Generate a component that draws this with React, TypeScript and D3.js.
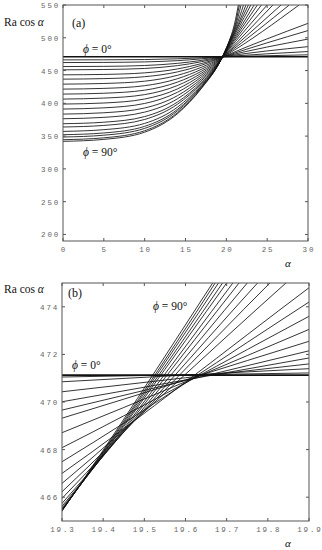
import React from 'react';
import * as d3 from 'd3';

// Ra cos(alpha) for phi = 0 (longitudinal rolls) is constant
const PHI0_VALUE = 471.13;

// Left branch sample abscissae (alpha, degrees)
const LEFT_ALPHAS = [0, 5, 10, 14, 17, 19.3];

// Left-branch values per curve (phi increasing from ~0 to 90 deg)
const LEFT_VALUES: number[][] = [
  [466.3, 466.4, 466.8, 467.9, 469.4, 471.05],
  [462.2, 462.4, 463.2, 465.1, 467.9, 470.85],
  [456.1, 456.4, 457.7, 461.0, 465.6, 470.43],
  [451.1, 451.6, 453.2, 457.5, 463.6, 470.01],
  [443.5, 444.1, 446.5, 452.4, 460.8, 469.66],
  [436.9, 437.7, 440.6, 447.9, 458.3, 469.32],
  [429.3, 430.3, 433.8, 442.7, 455.3, 468.71],
  [421.7, 422.8, 426.9, 437.5, 452.3, 468.08],
  [414.1, 415.4, 420.1, 432.3, 449.3, 467.49],
  [406.5, 408.0, 413.3, 427.1, 446.4, 467.0],
  [398.9, 400.5, 406.6, 421.9, 443.6, 466.58],
  [391.3, 393.1, 399.8, 416.8, 440.8, 466.23],
  [383.6, 385.6, 392.9, 411.6, 438.0, 465.95],
  [376.5, 378.6, 386.6, 406.8, 435.4, 465.74],
  [368.9, 371.2, 379.8, 401.8, 432.7, 465.62],
  [363.9, 366.3, 375.4, 398.5, 431.0, 465.54],
  [357.2, 359.8, 369.4, 394.0, 428.7, 465.49],
  [352.1, 354.8, 364.9, 390.6, 426.9, 465.46],
  [348.6, 351.4, 361.8, 388.3, 425.7, 465.44],
  [344.5, 347.4, 358.2, 385.6, 424.3, 465.43],
  [342.0, 345.0, 356.0, 384.0, 423.5, 465.42],
];

// Right-branch points [alpha, Ra cos alpha] per curve
const RIGHT_POINTS: [number, number][][] = [
  [[19.9, 471.22], [30, 474]],
  [[19.9, 471.4], [30, 479]],
  [[19.9, 471.6], [30, 486.5]],
  [[19.9, 471.85], [30, 498]],
  [[19.9, 472.15], [30, 511]],
  [[19.9, 472.55], [30, 522]],
  [[19.9, 473.05], [28.9, 550]],
  [[19.9, 473.6], [27.7, 550]],
  [[19.9, 474.2], [26.7, 550]],
  [[19.9, 474.8], [25.7, 550]],
  [[19.844, 475], [25.0, 550]],
  [[19.805, 475], [24.3, 550]],
  [[19.775, 475], [23.8, 550]],
  [[19.75, 475], [23.4, 550]],
  [[19.73, 475], [23.0, 550]],
  [[19.715, 475], [22.7, 550]],
  [[19.7, 475], [20.5, 495], [21.5, 522], [22.4, 550]],
  [[19.69, 475], [20.5, 496.5], [21.2, 517], [22.1, 550]],
  [[19.68, 475], [20.5, 498], [21, 513], [21.8, 550]],
  [[19.672, 475], [20.5, 499.5], [21, 516], [21.6, 550]],
  [[19.666, 475], [20, 484], [20.5, 500], [21, 521], [21.47, 550]],
];

const A_XTICKS = [0, 5, 10, 15, 20, 25, 30];
const A_YTICKS = [200, 250, 300, 350, 400, 450, 500, 550];
const B_XTICKS = [19.3, 19.4, 19.5, 19.6, 19.7, 19.8, 19.9];
const B_YTICKS = [466, 468, 470, 472, 474];

const curves: [number, number][][] = LEFT_VALUES.map((vals, i) =>
  (LEFT_ALPHAS.map((a, j) => [a, vals[j]] as [number, number])).concat(RIGHT_POINTS[i])
);
const phi0Curve: [number, number][] = [[0, PHI0_VALUE], [30, PHI0_VALUE]];

const TICK_FONT = 'Liberation Mono';
const SERIF = 'Liberation Serif';

interface PanelProps {
  id: string;
  left: number; right: number; top: number; bottom: number;
  xDomain: [number, number]; yDomain: [number, number];
  xTicks: number[]; yTicks: number[];
  xFmt: (v: number) => string;
  tag: string; tagX: number; tagY: number;
  ylabY: number; alphaX: number; alphaY: number;
  phi0X: number; phi0Y: number; phi90X: number; phi90Y: number;
}

function Panel(p: PanelProps) {
  const x = d3.scaleLinear().domain(p.xDomain).range([p.left, p.right]);
  const y = d3.scaleLinear().domain(p.yDomain).range([p.bottom, p.top]);
  const line = d3.line<[number, number]>()
    .x(d => x(d[0]))
    .y(d => y(d[1]))
    .curve(d3.curveMonotoneX);
  const tl = 3;
  const axisColor = '#555';
  const tickText = { fontFamily: TICK_FONT, fontSize: '7.5px', fill: '#666', letterSpacing: '1.8px' };
  const serif = { fontFamily: SERIF, fill: '#111' };
  return (
    <g>
      <defs>
        <clipPath id={p.id}>
          <rect x={p.left} y={p.top} width={p.right - p.left} height={p.bottom - p.top} />
        </clipPath>
      </defs>
      <g clipPath={`url(#${p.id})`} fill="none" stroke="#111">
        {curves.map((c, i) => (
          <path key={i} d={line(c) || ''} strokeWidth={0.85} />
        ))}
        <path d={line(phi0Curve) || ''} strokeWidth={1.6} />
      </g>
      <rect x={p.left} y={p.top} width={p.right - p.left} height={p.bottom - p.top}
        fill="none" stroke={axisColor} strokeWidth={1} />
      {p.xTicks.map((t, i) => (
        <g key={'x' + i}>
          <line x1={x(t)} x2={x(t)} y1={p.bottom} y2={p.bottom - tl} stroke={axisColor} />
          <line x1={x(t)} x2={x(t)} y1={p.top} y2={p.top + tl} stroke={axisColor} />
          <text x={x(t) + 0.9} y={p.bottom + 11} textAnchor="middle" style={tickText}>{p.xFmt(t)}</text>
        </g>
      ))}
      {p.yTicks.map((t, i) => (
        <g key={'y' + i}>
          <line x1={p.left} x2={p.left + tl} y1={y(t)} y2={y(t)} stroke={axisColor} />
          <line x1={p.right} x2={p.right - tl} y1={y(t)} y2={y(t)} stroke={axisColor} />
          <text x={p.left - 3} y={y(t) + 3} textAnchor="end" style={tickText}>{String(t)}</text>
        </g>
      ))}
      <text x={4} y={p.ylabY} style={{ ...serif, fontSize: '11.5px' }}>
        Ra cos <tspan style={{ fontStyle: 'italic' }}>α</tspan>
      </text>
      <text x={p.tagX} y={p.tagY} style={{ ...serif, fontSize: '12px' }}>{p.tag}</text>
      <text x={p.alphaX} y={p.alphaY} style={{ ...serif, fontSize: '11px', fontStyle: 'italic' }}>α</text>
      <text x={p.phi0X} y={p.phi0Y} style={{ ...serif, fontSize: '11.5px' }}>
        <tspan style={{ fontStyle: 'italic' }}>ϕ</tspan> = 0°
      </text>
      <text x={p.phi90X} y={p.phi90Y} style={{ ...serif, fontSize: '11.5px' }}>
        <tspan style={{ fontStyle: 'italic' }}>ϕ</tspan> = 90°
      </text>
    </g>
  );
}

export default function App() {
  return (
    <svg width={322} height={550} style={{ position: 'absolute', left: 0, top: 0, background: '#fff' }}>
      <Panel id="clipA" left={63} right={308} top={5} bottom={241}
        xDomain={[0, 30]} yDomain={[190, 550]}
        xTicks={A_XTICKS} yTicks={A_YTICKS} xFmt={v => String(v)}
        tag="(a)" tagX={72} tagY={27} ylabY={26} alphaX={285} alphaY={267}
        phi0X={83} phi0Y={53} phi90X={83} phi90Y={156} />
      <Panel id="clipB" left={62} right={309} top={283} bottom={521}
        xDomain={[19.3, 19.9]} yDomain={[465, 475]}
        xTicks={B_XTICKS} yTicks={B_YTICKS} xFmt={v => d3.format('.1f')(v)}
        tag="(b)" tagX={68} tagY={297} ylabY={293} alphaX={285} alphaY={547}
        phi0X={72} phi0Y={369} phi90X={153} phi90Y={310} />
    </svg>
  );
}
